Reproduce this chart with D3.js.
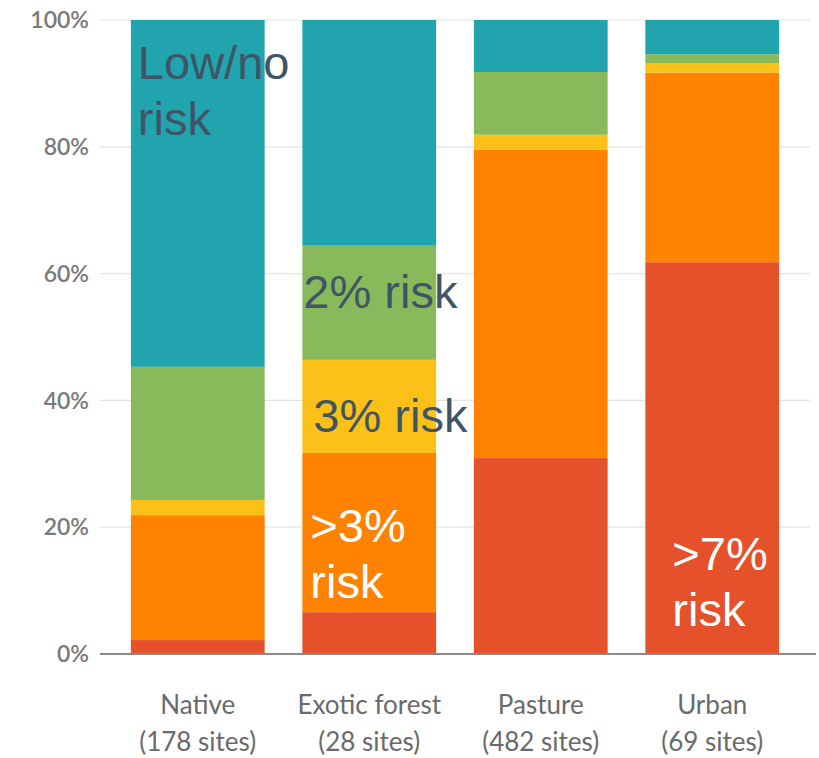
<!DOCTYPE html>
<html>
<head>
<meta charset="utf-8">
<script src="https://cdn.jsdelivr.net/npm/d3@7"></script>
<style>
  html, body { margin: 0; padding: 0; background: #fff; }
  svg { display: block; }
</style>
</head>
<body>
<svg id="chart" width="819" height="758"></svg>
<script>
// ---- data ----
const categories = ["Native", "Exotic forest", "Pasture", "Urban"];
const siteLabels = ["(178 sites)", "(28 sites)", "(482 sites)", "(69 sites)"];
const seriesKeys = [">7% risk", ">3% risk", "3% risk", "2% risk", "Low/no risk"];
const seriesColors = ["#e4512a", "#ff8200", "#fcc118", "#88b95b", "#21a4ad"];
// percentages per category, bottom to top
const red    = [2.2, 6.6, 30.9, 61.8];
const orange = [19.7, 25.1, 48.6, 29.9];
const yellow = [2.4, 14.7, 2.4, 1.5];
const green  = [21.0, 18.0, 9.9, 1.4];
const teal   = [54.7, 35.6, 8.2, 5.4];
const yTicks = [0, 20, 40, 60, 80, 100];

// annotation labels
const annotations = [
  { cat: "Native",        lines: ["Low/no", "risk"], color: "#3f5566", dx: 7,  y: 90.7 },
  { cat: "Exotic forest", lines: ["2% risk"],        color: "#3f5566", dx: 1,  y: 54.6 },
  { cat: "Exotic forest", lines: ["3% risk"],        color: "#3f5566", dx: 11, y: 35.0 },
  { cat: "Exotic forest", lines: [">3%", "risk"],    color: "#ffffff", dx: 8,  y: 17.6 },
  { cat: "Urban",         lines: [">7%", "risk"],    color: "#ffffff", dx: 27, y: 13.2 }
];

// ---- chart ----
const svg = d3.select("#chart");
const x = d3.scaleBand().domain(categories).range([100, 810]).paddingInner(0.22).paddingOuter(0.18);
const y = d3.scaleLinear().domain([0, 100]).range([654, 20]);

const rows = categories.map((c, i) => ({
  cat: c, ">7% risk": red[i], ">3% risk": orange[i], "3% risk": yellow[i], "2% risk": green[i], "Low/no risk": teal[i]
}));
const stacked = d3.stack().keys(seriesKeys)(rows);

// gridlines
svg.append("g").selectAll("line").data(yTicks.filter(d => d > 0)).join("line")
  .attr("x1", 100).attr("x2", 810)
  .attr("y1", d => y(d)).attr("y2", d => y(d))
  .attr("stroke", "#e4e4e4").attr("stroke-width", 1.2);

// y axis labels
svg.append("g").selectAll("text").data(yTicks).join("text")
  .attr("x", 89).attr("y", d => y(d)).attr("dy", "0.36em")
  .attr("text-anchor", "end")
  .attr("font-family", "Lato, 'Open Sans', sans-serif")
  .attr("font-size", 23).attr("font-weight", 600)
  .attr("fill", "#7a7a7a")
  .text(d => d + "%");

// bars
svg.append("g").selectAll("g").data(stacked).join("g")
  .attr("fill", (d, i) => seriesColors[i])
  .selectAll("rect").data(d => d).join("rect")
  .attr("x", d => x(d.data.cat))
  .attr("width", x.bandwidth())
  .attr("y", d => y(d[1]))
  .attr("height", d => y(d[0]) - y(d[1]));

// baseline axis
svg.append("line")
  .attr("x1", 100).attr("x2", 816)
  .attr("y1", y(0)).attr("y2", y(0))
  .attr("stroke", "#8a8a8a").attr("stroke-width", 2);

// category labels
const cl = svg.append("g").attr("font-family", "Lato, 'Open Sans', sans-serif")
  .attr("font-size", 26).attr("fill", "#6a6a6a").attr("text-anchor", "middle");
cl.selectAll("text.cat").data(categories).join("text").attr("class", "cat")
  .attr("x", d => x(d) + x.bandwidth() / 2).attr("y", 714).text(d => d);
cl.selectAll("text.sites").data(siteLabels).join("text").attr("class", "sites")
  .attr("x", (d, i) => x(categories[i]) + x.bandwidth() / 2).attr("y", 751).text(d => d);

// annotations
const ag = svg.append("g").attr("font-family", "'Liberation Sans', Arial, sans-serif").attr("font-size", 47);
annotations.forEach(a => {
  const t = ag.append("text").attr("fill", a.color)
    .attr("x", x(a.cat) + a.dx).attr("y", y(a.y));
  a.lines.forEach((ln, k) => {
    t.append("tspan").attr("x", x(a.cat) + a.dx).attr("dy", k === 0 ? 0 : 56).text(ln);
  });
});
</script>
</body>
</html>
